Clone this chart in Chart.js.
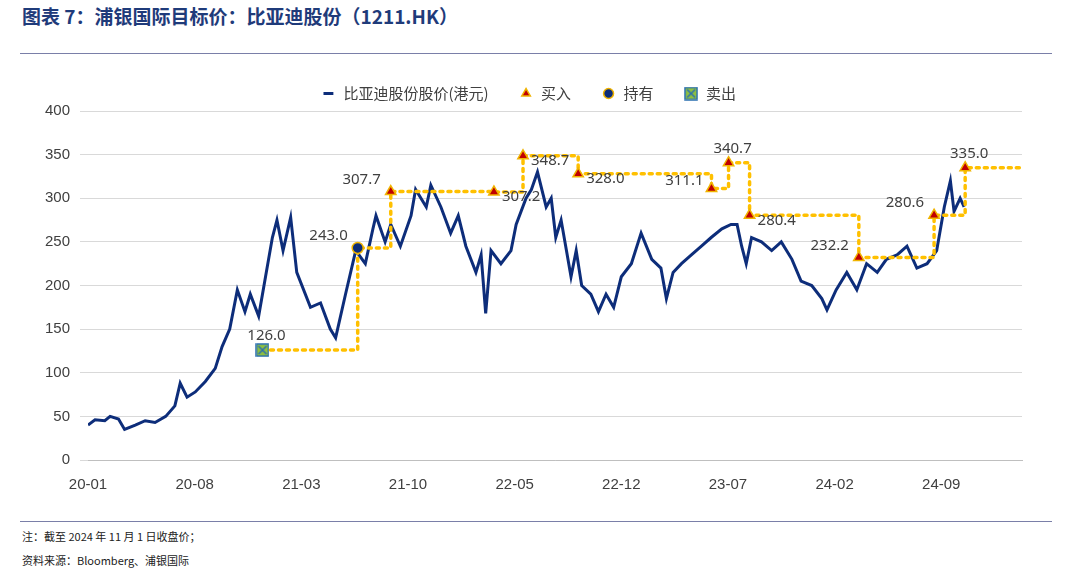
<!DOCTYPE html>
<html><head><meta charset="utf-8">
<script src="https://cdn.jsdelivr.net/npm/chart.js@4"></script>
<style>
body{margin:0;background:#fff;font-family:"Noto Sans CJK SC","Noto Sans",sans-serif;}
#t{position:absolute;left:22px;top:2px;font-size:19px;font-weight:bold;color:#1f3b7a;}
#l1{position:absolute;left:20px;top:53px;width:1032px;border-top:1px solid #7a7fa8;}
#l2{position:absolute;left:20px;top:521px;width:1032px;border-top:1px solid #7a7fa8;}
.n{position:absolute;left:22px;font-size:11px;color:#222;}
#w{position:absolute;left:0;top:56px;width:1074px;height:446px;}
</style></head><body>
<div id="t">图表 7：浦银国际目标价：比亚迪股份（1211.HK）</div>
<div id="l1"></div>
<div id="w"><canvas id="c"></canvas></div>
<div id="l2"></div>
<div class="n" style="top:528px">注：截至 2024 年 11 月 1 日收盘价；</div>
<div class="n" style="top:552px">资料来源：Bloomberg、浦银国际</div>
<script>
const tickLabels=["20-01","20-08","21-03","21-10","22-05","22-12","23-07","24-02","24-09"];
const tickMonths=[0,7,14,21,28,35,42,49,56];
const priceMonths=[0,.46,1.1,1.45,2,2.4,3.1,3.75,4.4,5.1,5.7,6.05,6.5,7.04,7.7,8.35,8.8,9.3,9.8,10.3,10.65,11.2,11.65,12.1,12.4,12.8,13.3,13.7,14.6,15.26,15.9,16.25,16.9,17.57,18.2,18.7,18.9,19.5,19.87,20.5,21.2,21.5,22.2,22.5,23.16,23.8,24.3,24.8,25.46,25.8,26.1,26.45,27.1,27.76,28.1,28.75,29.1,29.5,30.07,30.4,30.7,31.05,31.4,31.7,32.04,32.4,33,33.5,34,34.5,35,35.66,36.3,37,37.6,37.96,38.4,38.95,39.6,40.26,40.9,41.6,42.2,42.6,42.9,43.2,43.55,44.2,44.87,45.5,46.2,46.8,47.5,48.16,48.5,49.1,49.8,50.46,51.1,51.8,52.4,53.1,53.75,54.4,55.07,55.7,56.2,56.6,56.84,57.24,57.5];
const prices=[40,46,45,50,47,35,40,45,43,50,62,88,72,78,90,105,130,150,195,170,190,165,210,255,275,240,278,215,175,180,150,140,190,240,225,265,280,250,270,245,280,310,290,315,290,260,280,245,215,235,168,240,225,240,270,300,310,330,290,300,255,275,240,210,240,200,190,170,190,175,210,225,260,230,220,185,215,225,235,245,255,265,270,270,245,225,255,250,240,250,230,205,200,185,172,195,215,195,225,215,230,235,245,220,225,240,290,320,285,300,290];
const targetMonths=[11.45,17.7,19.87,26.64,28.55,32.17,40.92,42.04,43.42,50.59,55.53,57.57,61.3];
const targets=[126.0,243.0,307.7,307.2,348.7,328.0,311.1,340.7,280.4,232.2,280.6,335.0,335.0];
const actions=["卖出","持有","买入","买入","买入","买入","买入","买入","买入","买入","买入","买入",""];
const seriesNames=["比亚迪股份股价(港元)","买入","持有","卖出"];
const labelPos=["t","tl","tl","r","r","r","bl","t","r","tl","tl","t"];

const sellImg=document.createElement('canvas');sellImg.width=14;sellImg.height=14;
{const g=sellImg.getContext('2d');g.fillStyle='#8fc03f';g.fillRect(1,1,12,12);g.strokeStyle='#2a6fb0';g.lineWidth=1.5;g.strokeRect(1,1,12,12);g.beginPath();g.moveTo(3,3);g.lineTo(11,11);g.moveTo(11,3);g.lineTo(3,11);g.stroke();}

function pick(a){return targetMonths.map((m,i)=>actions[i]===a?{x:m,y:targets[i]}:null).filter(v=>v);}
const labelPlugin={id:'lbl',beforeInit(ch){const f=ch.legend.afterFit;ch.legend.afterFit=function(){if(f)f.call(this);this.height+=18;};},
afterDatasetsDraw(ch){const c=ch.ctx,xs=ch.scales.x,ys=ch.scales.y;c.save();c.font='15px "Noto Sans","DejaVu Sans",sans-serif';c.fillStyle='#404040';
for(let i=0;i<targets.length-1;i++){const x=xs.getPixelForValue(targetMonths[i]),y=ys.getPixelForValue(targets[i]);const s=targets[i].toFixed(1);const p=labelPos[i];
if(p==='t'){c.textAlign='center';c.fillText(s,x+4,y-14);}else if(p==='tl'){c.textAlign='right';c.fillText(s,x-10,y-12);}
else if(p==='r'){c.textAlign='left';c.fillText(s,x+8,y+5);}else{c.textAlign='right';c.fillText(s,x-8,y-8);}}
c.restore();}};
new Chart(document.getElementById('c'),{type:'line',data:{datasets:[
{label:seriesNames[0],data:priceMonths.map((m,i)=>({x:m,y:prices[i]})),borderColor:'#0d2d7a',backgroundColor:'#0d2d7a',borderWidth:3,pointRadius:0,tension:0,pointStyle:'line',order:3},
{label:'target',data:targetMonths.map((m,i)=>({x:m,y:targets[i]})),stepped:'before',borderColor:'#ffc000',borderWidth:3.5,borderDash:[3,5],borderCapStyle:'round',pointRadius:0,order:2},
{label:seriesNames[1],data:pick("买入"),showLine:false,pointStyle:'triangle',pointRadius:6,backgroundColor:'#c00000',borderColor:'#f0b400',borderWidth:1.5,order:1},
{label:seriesNames[2],data:pick("持有"),showLine:false,pointStyle:'circle',pointRadius:5.5,backgroundColor:'#0d2d7a',borderColor:'#f0b400',borderWidth:1.5,order:1},
{label:seriesNames[3],data:pick("卖出"),showLine:false,pointStyle:sellImg,pointRadius:6,backgroundColor:'#8fc03f',borderColor:'#2a6fb0',order:1}
]},options:{responsive:true,maintainAspectRatio:false,animation:false,layout:{padding:{left:35,right:52,top:0,bottom:0}},
plugins:{tooltip:{enabled:false},legend:{labels:{sort:(a,b)=>a.datasetIndex-b.datasetIndex,filter:it=>it.text!=='target',usePointStyle:true,boxHeight:7,font:{size:15,family:'"Noto Sans CJK SC"'},color:'#404040',padding:30}}},
scales:{x:{type:'linear',min:0,max:61.3,grid:{display:false},border:{color:'#bfbfbf'},afterBuildTicks(s){s.ticks=tickMonths.map(v=>({value:v}));},ticks:{autoSkip:false,maxRotation:0,color:'#404040',font:{size:15},padding:8,callback:(v)=>tickLabels[tickMonths.indexOf(v)]}},
y:{min:0,max:400,ticks:{stepSize:50,color:'#404040',font:{size:15},padding:10},grid:{color:'#d9d9d9'},border:{display:false}}}},plugins:[labelPlugin]});
</script></body></html>
